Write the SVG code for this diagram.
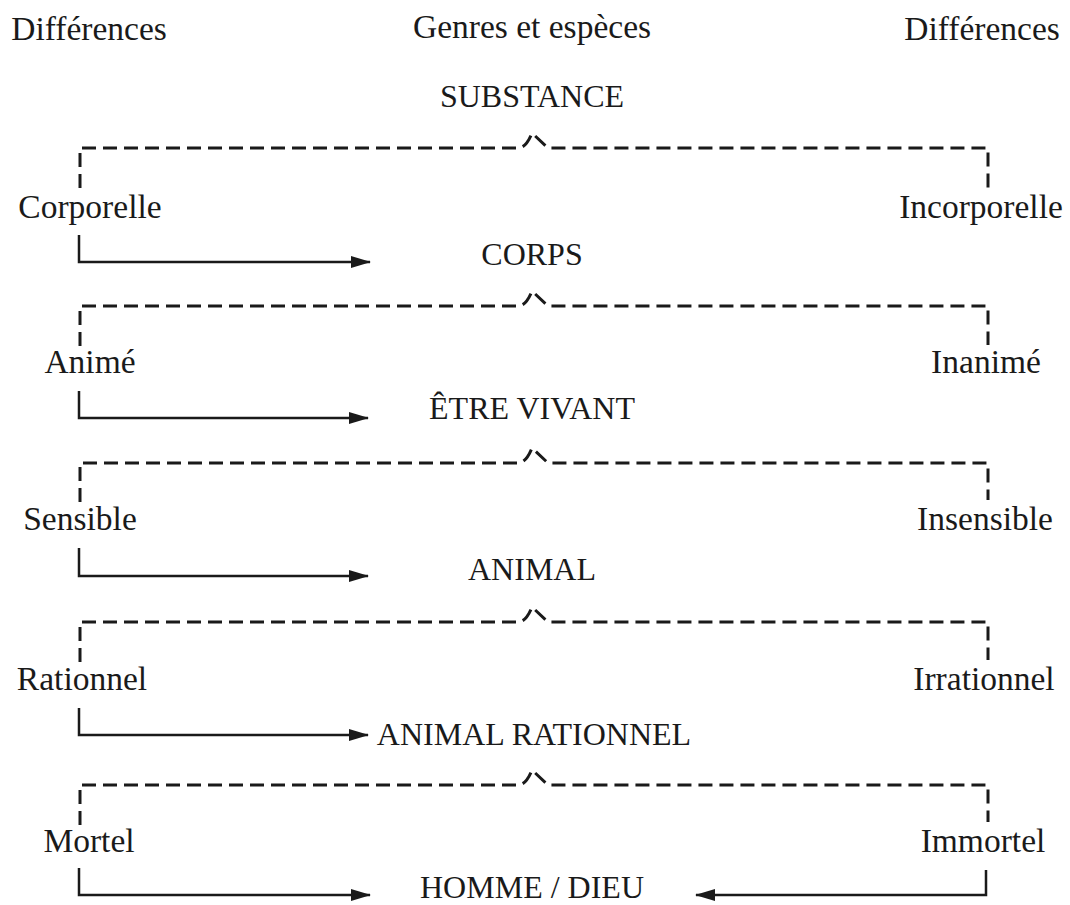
<svg xmlns="http://www.w3.org/2000/svg" width="1070" height="905" viewBox="0 0 1070 905">
  <style>
    text { font-family: "Liberation Serif", "Times New Roman", serif; fill: #1a1a1a; text-anchor: middle; }
    .head, .diff { font-size: 33.5px; }
    .genus { font-size: 32px; }
    .split { fill: none; stroke: #1a1a1a; stroke-width: 3; stroke-dasharray: 14 7; }
    .link { fill: none; stroke: #1a1a1a; stroke-width: 2.5; }
  </style>
  <defs>
    <marker id="head" viewBox="0 0 20 12" refX="19" refY="6" markerWidth="20" markerHeight="12" markerUnits="userSpaceOnUse" orient="auto">
      <path d="M0,0 L20,6 L0,12 Z" fill="#1a1a1a"/>
    </marker>
  </defs>
  <rect width="1070" height="905" fill="#ffffff"/>

  <!-- column headings -->
  <g id="headings">
    <text class="head" x="89" y="40">Différences</text>
    <text class="head" x="532" y="38">Genres et espèces</text>
    <text class="head" x="982" y="40">Différences</text>
  </g>

  <!-- genera and species -->
  <g id="substance"><text class="genus" x="532" y="107">SUBSTANCE</text></g>
  <g id="corps"><text class="genus" x="532" y="265">CORPS</text></g>
  <g id="etre-vivant"><text class="genus" x="532" y="419">ÊTRE VIVANT</text></g>
  <g id="animal"><text class="genus" x="532" y="580">ANIMAL</text></g>
  <g id="animal-rationnel"><text class="genus" x="534" y="745">ANIMAL RATIONNEL</text></g>
  <g id="homme-dieu"><text class="genus" x="532" y="898">HOMME / DIEU</text></g>

  <!-- differences -->
  <g id="corporelle"><text class="diff" x="90" y="218">Corporelle</text></g>
  <g id="incorporelle"><text class="diff" x="981" y="218">Incorporelle</text></g>
  <g id="anime"><text class="diff" x="90" y="373">Animé</text></g>
  <g id="inanime"><text class="diff" x="986" y="373">Inanimé</text></g>
  <g id="sensible"><text class="diff" x="80" y="530">Sensible</text></g>
  <g id="insensible"><text class="diff" x="985" y="530">Insensible</text></g>
  <g id="rationnel"><text class="diff" x="82" y="690">Rationnel</text></g>
  <g id="irrationnel"><text class="diff" x="984" y="690">Irrationnel</text></g>
  <g id="mortel"><text class="diff" x="89" y="852">Mortel</text></g>
  <g id="immortel"><text class="diff" x="983" y="852">Immortel</text></g>

  <g id="connectors">
    <!-- dashed division brackets, each with a small peak above the middle -->
    <path class="split" d="M80,188 V148 H518 Q526,148 532,133 L548,148 H988 V188"/>
    <path class="split" d="M80,346 V306 H518 Q526,306 532,291 L548,306 H988 V345"/>
    <path class="split" d="M80,502 V463 H518 Q526,463 532,448 L548,463 H988 V500"/>
    <path class="split" d="M80,662 V622 H518 Q526,622 532,607 L548,622 H988 V660"/>
    <path class="split" d="M80,825 V785 H518 Q526,785 532,770 L548,785 H988 V822"/>

    <!-- solid arrows to the next genus -->
    <path class="link" d="M79,235 V262 H370" marker-end="url(#head)"/>
    <path class="link" d="M79,391 V418 H368" marker-end="url(#head)"/>
    <path class="link" d="M79,548 V576 H368" marker-end="url(#head)"/>
    <path class="link" d="M79,708 V735 H368" marker-end="url(#head)"/>
    <path class="link" d="M79,868 V895 H370" marker-end="url(#head)"/>
    <path class="link" d="M986,870 V895 H696" marker-end="url(#head)"/>
  </g>
</svg>
